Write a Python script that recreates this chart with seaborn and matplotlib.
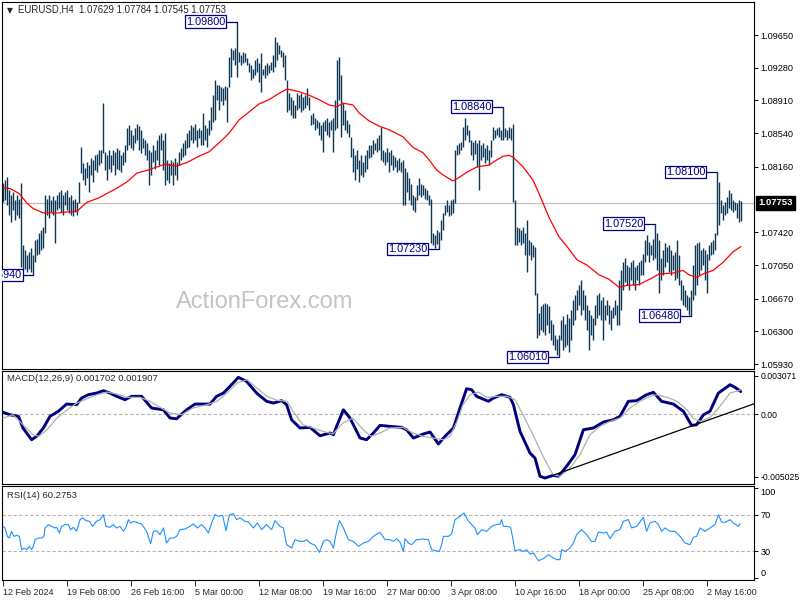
import numpy as np
import pandas as pd
import matplotlib
matplotlib.use("Agg")
import matplotlib.pyplot as plt
import seaborn as sns
from matplotlib.transforms import blended_transform_factory

sns.set_style("white")
plt.rcParams['font.family'] = ['Liberation Sans', 'DejaVu Sans']

# ---------------- data ----------------
symbol = "EURUSD,H4"
last_ohlc = [1.07629, 1.07784, 1.07545, 1.07753]

# H4 bar highs / lows in pips (price * 10000)
high_pips = [
    10798, 10801, 10804, 10790, 10784, 10788, 10779, 10784, 10780, 10798,
    10728, 10722, 10716, 10720, 10724, 10716, 10733, 10735, 10741, 10745,
    10748, 10784, 10780, 10784, 10779, 10783, 10779, 10784, 10788, 10790,
    10784, 10788, 10790, 10782, 10784, 10779, 10780, 10776, 10799, 10838,
    10820, 10815, 10822, 10818, 10826, 10824, 10829, 10831, 10835, 10835,
    10888, 10833, 10829, 10835, 10829, 10835, 10833, 10837, 10835, 10829,
    10833, 10841, 10860, 10863, 10858, 10852, 10860, 10865, 10862, 10858,
    10849, 10846, 10843, 10835, 10833, 10841, 10835, 10846, 10852, 10854,
    10846, 10854, 10824, 10820, 10824, 10822, 10826, 10822, 10833, 10837,
    10843, 10846, 10854, 10858, 10863, 10861, 10865, 10858, 10860, 10858,
    10877, 10863, 10860, 10869, 10884, 10897, 10914, 10908, 10908, 10906,
    10905, 10907, 10906, 10940, 10950, 10948, 10950, 10980, 10946, 10942,
    10946, 10945, 10939, 10933, 10931, 10927, 10937, 10939, 10933, 10945,
    10927, 10931, 10933, 10931, 10935, 10942, 10963, 10957, 10954, 10948,
    10946, 10942, 10914, 10899, 10895, 10892, 10886, 10899, 10897, 10899,
    10895, 10897, 10905, 10895, 10875, 10877, 10871, 10869, 10867, 10863,
    10867, 10869, 10871, 10867, 10869, 10871, 10892, 10937, 10940, 10920,
    10888, 10880, 10869, 10865, 10850, 10837, 10829, 10835, 10824, 10829,
    10822, 10829, 10835, 10841, 10841, 10846, 10843, 10849, 10852, 10861,
    10835, 10833, 10837, 10833, 10835, 10829, 10827, 10824, 10826, 10822,
    10824, 10815, 10810, 10803, 10797, 10784, 10782, 10795, 10803, 10797,
    10795, 10792, 10790, 10784, 10780, 10741, 10739, 10745, 10742, 10756,
    10764, 10773, 10779, 10773, 10779, 10780, 10835, 10841, 10843, 10844,
    10861, 10871, 10863, 10858, 10846, 10844, 10846, 10843, 10846, 10841,
    10843, 10837, 10841, 10835, 10846, 10861, 10858, 10860, 10861, 10858,
    10884, 10860, 10858, 10861, 10860, 10865, 10779, 10748, 10747, 10745,
    10748, 10741, 10756, 10733, 10731, 10728, 10726, 10673, 10651, 10659,
    10661, 10662, 10661, 10659, 10643, 10639, 10626, 10622, 10626, 10643,
    10648, 10639, 10650, 10645, 10654, 10666, 10671, 10677, 10682, 10688,
    10677, 10671, 10660, 10654, 10649, 10645, 10660, 10671, 10673, 10666,
    10669, 10660, 10666, 10660, 10654, 10658, 10666, 10660, 10688, 10699,
    10709, 10713, 10705, 10703, 10709, 10711, 10703, 10705, 10709, 10711,
    10718, 10733, 10739, 10731, 10728, 10735, 10752, 10741, 10733, 10713,
    10722, 10730, 10726, 10728, 10722, 10716, 10720, 10733, 10716, 10688,
    10682, 10677, 10671, 10669, 10677, 10705, 10728, 10730, 10731, 10722,
    10724, 10722, 10718, 10728, 10731, 10733, 10741, 10810, 10799, 10779,
    10773, 10776, 10782, 10790, 10787, 10779, 10776, 10775, 10779, 10778,
]
low_pips = [
    10776, 10779, 10773, 10762, 10754, 10767, 10756, 10762, 10758, 10703,
    10699, 10701, 10697, 10701, 10697, 10694, 10709, 10716, 10718, 10722,
    10724, 10741, 10762, 10758, 10765, 10762, 10730, 10767, 10769, 10765,
    10762, 10773, 10767, 10764, 10762, 10760, 10765, 10762, 10775, 10809,
    10801, 10795, 10803, 10788, 10807, 10799, 10812, 10810, 10818, 10820,
    10832, 10812, 10801, 10814, 10810, 10818, 10807, 10814, 10812, 10810,
    10818, 10822, 10835, 10841, 10837, 10835, 10843, 10846, 10835, 10832,
    10837, 10829, 10824, 10795, 10807, 10822, 10814, 10824, 10818, 10835,
    10812, 10795, 10801, 10798, 10807, 10795, 10807, 10801, 10818, 10824,
    10827, 10829, 10837, 10839, 10846, 10843, 10846, 10839, 10849, 10841,
    10841, 10846, 10839, 10852, 10858, 10867, 10869, 10892, 10880, 10890,
    10886, 10892, 10867, 10906, 10918, 10937, 10931, 10917, 10935, 10931,
    10933, 10935, 10931, 10923, 10914, 10916, 10920, 10923, 10912, 10901,
    10920, 10916, 10920, 10922, 10925, 10923, 10929, 10937, 10944, 10940,
    10929, 10914, 10878, 10880, 10875, 10871, 10871, 10880, 10882, 10878,
    10880, 10882, 10886, 10880, 10863, 10865, 10858, 10860, 10852, 10846,
    10833, 10856, 10852, 10850, 10858, 10833, 10858, 10860, 10892, 10850,
    10863, 10858, 10854, 10850, 10827, 10810, 10801, 10814, 10799, 10807,
    10805, 10810, 10814, 10826, 10827, 10831, 10835, 10833, 10835, 10824,
    10822, 10818, 10822, 10810, 10818, 10812, 10816, 10810, 10812, 10810,
    10773, 10773, 10788, 10779, 10773, 10767, 10765, 10779, 10784, 10782,
    10784, 10780, 10779, 10773, 10730, 10728, 10724, 10729, 10723, 10733,
    10745, 10762, 10765, 10760, 10762, 10764, 10775, 10829, 10831, 10835,
    10839, 10846, 10852, 10844, 10829, 10824, 10831, 10816, 10790, 10824,
    10827, 10820, 10824, 10818, 10827, 10846, 10849, 10852, 10850, 10846,
    10846, 10850, 10846, 10849, 10846, 10776, 10728, 10728, 10731, 10728,
    10730, 10716, 10697, 10716, 10711, 10714, 10671, 10623, 10626, 10632,
    10629, 10626, 10637, 10628, 10620, 10615, 10609, 10603, 10601, 10620,
    10609, 10612, 10615, 10607, 10620, 10637, 10643, 10654, 10660, 10649,
    10654, 10643, 10632, 10609, 10626, 10620, 10637, 10645, 10649, 10643,
    10620, 10643, 10649, 10639, 10632, 10645, 10649, 10637, 10637, 10654,
    10677, 10686, 10682, 10677, 10688, 10682, 10677, 10688, 10682, 10694,
    10694, 10709, 10716, 10709, 10716, 10711, 10713, 10699, 10673, 10688,
    10694, 10703, 10709, 10697, 10694, 10699, 10688, 10690, 10682, 10666,
    10660, 10658, 10654, 10649, 10648, 10666, 10671, 10682, 10694, 10699,
    10705, 10688, 10673, 10711, 10716, 10718, 10722, 10739, 10750, 10764,
    10756, 10762, 10764, 10769, 10767, 10765, 10767, 10758, 10754, 10755,
]

# red moving average (bar index, pips)
ma_bar = [0, 4, 8, 12, 15, 20, 28, 32, 37, 42, 48, 52, 57, 62, 67, 72, 77, 81, 87, 92,
          98, 103, 108, 113, 118, 123, 128, 133, 138, 142, 148, 153, 158, 163, 167, 170,
          175, 178, 183, 188, 193, 200, 205, 210, 213, 217, 220, 225, 228, 232, 237, 243,
          247, 250, 253, 255, 260, 265, 268, 273, 278, 282, 287, 292, 298, 303, 308, 312,
          318, 325, 328, 335, 340, 343, 347, 350, 355, 360, 365, 369]
ma_pips = [10793, 10791, 10786, 10775, 10769, 10764, 10764, 10765, 10766, 10776, 10781,
           10786, 10792, 10799, 10809, 10812, 10816, 10819, 10817, 10821, 10828, 10833,
           10843, 10854, 10869, 10878, 10887, 10892, 10899, 10904, 10901, 10897, 10892,
           10886, 10884, 10888, 10886, 10877, 10868, 10862, 10858, 10850, 10838, 10832,
           10824, 10812, 10807, 10800, 10804, 10810, 10816, 10818, 10824, 10828, 10829,
           10827, 10816, 10801, 10786, 10759, 10737, 10726, 10711, 10705, 10694, 10689,
           10680, 10682, 10683, 10691, 10695, 10696, 10699, 10694, 10691, 10695, 10699,
           10708, 10720, 10726]

# MACD main line (units of 1e-4)
macd_bar = [0, 3.5, 7.7, 10, 14.3, 16.8, 20.2, 23.5, 27.7, 31.8, 36.8, 39.3, 42.7, 46.8,
            50.2, 53.5, 56.8, 61, 64.3, 69.3, 74.3, 80.2, 83.5, 86.8, 91.8, 96, 103.5,
            106.8, 110.2, 113.5, 117.7, 121.8, 126.8, 131.8, 135.2, 139.3, 141.8, 144.3,
            148.5, 153.5, 158.5, 163.5, 165.2, 166.8, 170.2, 173.5, 178.5, 181.8, 185.2,
            188.5, 193.5, 199.3, 201.8, 205.2, 210.2, 213.5, 217.7, 221, 225.2, 228.5,
            231.8, 234.3, 236.8, 242.7, 245.2, 249.3, 253.5, 255.2, 258.5, 263.5, 266,
            268.5, 271, 275.2, 277.7, 281.8, 286, 290.2, 295.2, 300.2, 305.2, 308.5,
            312.7, 316.8, 321.8, 325.2, 329.3, 335.2, 340.2, 344.3, 346.8, 350.2, 353.5,
            357.7, 363.5, 366, 368.9]
macd_e4 = [1.4, -0.6, -1.8, -11.2, -20.6, -17.9, -11.2, -1.8, 2.2, 8.0, 7.5, 12.8, 15.5,
           16.8, 18.7, 16.8, 14.2, 11.5, 14.2, 14.2, 4.8, 3.4, -3.2, -3.8, 3.4, 8.0, 8.0,
           14.2, 16.8, 22.2, 29.4, 26.2, 16.8, 10.2, 8.8, 10.7, 7.5, -4.6, -11.2, -10.7,
           -17.4, -15.2, -16.6, -9.9, 3.4, -3.2, -19.2, -20.6, -15.2, -9.1,
           -9.9, -10.7, -12.6, -19.2, -16.0, -14.4, -24.0, -17.9, -11.2, 4.8, 20.3, 19.5,
           14.2, 10.2, 12.8, 15.5, 13.4, 7.5, -13.9, -31.3, -35.3, -49.9, -51.3, -49.1,
           -49.9, -41.9, -32.6, -12.6, -11.2, -6.4, -4.6, -1.8, 10.2, 10.7, 15.5, 17.4,
           10.2, 8.0, 2.2, -9.1, -8.6, -0.6, 2.2, 16.8, 23.5, 21.4, 18.0]

# MACD signal line (units of 1e-4)
signal_bar = [0, 5, 10, 15, 18, 22, 27, 32, 37, 42, 47, 52, 57, 62, 68.5, 73.5, 78.5,
              83.5, 89.3, 95, 102, 107, 112, 117, 122, 127, 132, 137, 142, 145, 150, 155,
              160, 165, 170, 175, 180, 184, 188.5, 193.5, 200, 205, 210, 215, 220, 223.5,
              227, 230, 233.5, 237.7, 242, 247, 252, 256, 260, 265, 270, 275, 278.5,
              283.5, 288.5, 293.5, 298.5, 303.5, 308.5, 313.5, 318.5, 323.5, 327, 332,
              337, 342, 345, 348.5, 353.5, 358.5, 363.5, 368.5]
signal_e4 = [-3.2, -0.6, -8.6, -16.6, -17.9, -12.6, -3.2, 3.4, 8.8, 12.3, 15.5, 17.6,
             16.0, 13.4, 13.4, 10.2, 5.4, 0.8, -0.6, 4.8, 7.5, 10.2, 16.8, 24.8, 27.5,
             20.8, 14.2, 11.0, 10.2, 2.2, -8.6, -11.2, -13.9, -16.0, -7.2, -3.2, -12.6,
             -17.9, -15.2, -11.2, -10.7, -15.2, -17.9, -19.2, -20.6, -17.9, -5.9, 7.5,
             15.5, 17.6, 13.4, 14.2, 14.2, 11.5, -0.6, -16.6, -33.9, -48.6, -49.9, -43.3,
             -32.6, -16.6, -9.9, -5.9, -3.2, 4.8, 10.2, 14.2, 15.5, 13.4, 10.2, 3.4, -3.2,
             -5.9, -2.7, 6.2, 16.8, 19.1]
macd_last = [0.001702, 0.001907]

# MACD trend line (bar index, value)
trend_bar = [274.5, 375.5]
trend_val = [-0.00494, 0.00082]

# RSI(14)
rsi_bar = [0, 1, 2.2, 3.2, 4.3, 5.5, 6.8, 8.2, 9.3, 10.5, 11.8, 13.2, 14.3, 15.2, 16,
           17.7, 19.3, 20.5, 21, 22.7, 24.3, 26, 26.8, 28.2, 29.3, 31, 32.7, 33.8, 35.2,
           36.8, 38.5, 39.8, 41.5, 43.2, 44.8, 46.8, 48.5, 50.2, 51.5, 53.5, 55.2, 56.8,
           58.5, 60.2, 61.5, 62.7, 63.8, 65.2, 67.7, 69.3, 71.8, 73.8, 75.2, 76.8, 78.5,
           80.2, 81.8, 83.5, 85.2, 86.8, 88.5, 91, 93.5, 95.2, 97.2, 99.3, 101, 102.7,
           104.3, 106, 107.7, 109.8, 111.5, 113.2, 115.2, 116.8, 118.5, 121, 122.7, 125.2,
           127.2, 129.3, 131.8, 134.3, 136, 138.5, 140.2, 141.8, 144.3, 146, 148.5, 150.2,
           151.8, 153.5, 156, 158.2, 160.2, 161.8, 163.5, 165.2, 166.8, 168.2, 170.2,
           172.7, 175.2, 177.7, 180.2, 182.7, 185.2, 188.5, 191,
           193.5, 195.2, 196.8, 198.5, 200.2, 201, 202.7, 204.3, 206.8, 210.2, 212.7,
           214.3, 216, 218.2, 219.3, 220.2, 222.7, 224.3, 226, 228.5, 230.5, 232.2, 234.3,
           236, 237.2, 239.3, 241.8, 244.3, 246.5, 248.5, 249.3, 250.2, 251.8, 253.8,
           255.2, 256, 258.5, 260.2, 261.8, 263.5, 265.2, 267.7, 270.2, 272.7, 275.2,
           276.8, 278.5, 279.3, 281, 283.5, 285.2, 286.8, 289.3, 291.8, 294.3, 296, 297.7,
           300.2, 301.8, 303.5, 306, 308.5, 310.2, 312.7, 314.3, 316.8, 319.3, 320.2,
           321.8, 323.5, 326, 327.7, 329.3, 331, 333.5, 336, 338.5, 341, 343.5, 345.2,
           346.8, 348.5, 351, 353.5, 356, 357.7, 359.3, 361, 363.5, 365.2, 367.7, 368.5]
rsi_val = [57.4, 55.6, 46.3, 44.4, 51.9, 46.3, 47.4, 46.3, 31.5, 33.3, 31.5, 35.2, 31.5,
           35.2, 42.6, 44.4, 44.4, 46.3, 55.6, 59.3, 57.4, 55.6, 56.3, 50.0, 57.4, 59.3,
           59.3, 53.7, 56.3, 51.9, 64.8, 66.7, 63.7, 63.0, 57.4, 63.0, 64.8, 70.4, 57.4,
           56.3, 59.3, 55.6, 57.4, 51.9, 56.3, 64.8, 61.1, 63.0, 61.1, 60.0, 51.9, 38.1,
           51.9, 52.6, 48.1, 55.6, 38.9, 44.4, 44.4, 46.3, 53.7, 54.4, 57.4, 60.0, 55.6,
           59.3, 55.6, 50.0, 61.1, 70.4, 68.5, 69.6, 52.6, 70.4, 71.5, 64.8, 66.7, 63.0,
           62.2, 55.6, 61.1, 53.7, 59.3, 53.7, 63.7, 57.4, 55.6, 37.0, 33.3, 42.6, 40.7,
           40.7, 42.6, 38.9, 36.3, 28.5, 40.7, 42.6, 40.7, 33.3, 51.9, 63.7, 55.6, 42.6,
           40.7, 35.2, 38.9, 40.7, 46.3, 50.7, 42.6,
           42.6, 40.7, 43.7, 40.0, 29.6, 43.7, 38.9, 37.0, 42.6, 43.3, 42.6, 31.5, 30.4,
           29.6, 37.0, 46.3, 46.3, 48.9, 64.8, 68.5, 72.2, 64.8, 59.3, 55.6, 48.1, 53.7,
           51.9, 57.4, 59.3, 60.0, 64.8, 57.4, 57.4, 56.3, 40.7, 30.4, 31.5, 29.6, 31.5,
           26.7, 27.8, 19.3, 21.5, 25.9, 22.2, 20.4, 20.4, 31.5, 29.6, 33.3, 38.9, 48.1,
           53.7, 48.1, 40.7, 40.7, 51.1, 50.0, 51.1, 43.7, 51.9, 53.7, 63.0, 64.8, 55.6,
           57.4, 64.8, 67.4, 51.9, 61.1, 63.0, 59.3, 51.9, 55.6, 51.9, 51.9, 46.3, 38.9,
           37.0, 45.2, 46.3, 55.6, 51.9, 55.6, 59.3, 70.4, 62.2, 61.9, 64.8, 61.1, 57.4,
           60.3]
rsi_last = 60.2753

# swing labels
swing_bar = [15, 117, 218, 250, 278, 326, 344, 357]
swing_price = [1.06940, 1.09800, 1.07230, 1.08840, 1.06010, 1.07520, 1.06480, 1.08100]

price_ticks = [1.09650, 1.09280, 1.08910, 1.08540, 1.08160, 1.07420, 1.07050,
               1.06670, 1.06300, 1.05930]
x_labels = ["12 Feb 2024", "19 Feb 08:00", "26 Feb 16:00", "5 Mar 00:00", "12 Mar 08:00",
            "19 Mar 16:00", "27 Mar 00:00", "3 Apr 08:00", "10 Apr 16:00", "18 Apr 00:00",
            "25 Apr 08:00", "2 May 16:00"]
x_label_bar = [0, 32, 64, 96, 128, 160, 192, 224, 256, 288, 320, 352]

# ---------------- figure ----------------
n = min(len(high_pips), len(low_pips))
bars = pd.DataFrame({"bar": np.arange(n),
                     "high": np.array(high_pips[:n]) / 10000.0,
                     "low": np.array(low_pips[:n]) / 10000.0})

fig = plt.figure(figsize=(8, 6), dpi=100)
L, W = 2 / 800, 752 / 800
ax1 = fig.add_axes([L, 1 - 369 / 600, W, 367 / 600])
ax2 = fig.add_axes([L, 1 - 484 / 600, W, 113 / 600])
ax3 = fig.add_axes([L, 1 - 580 / 600, W, 94 / 600])

XL = (-0.5, 375.5)
for ax in (ax1, ax2, ax3):
    ax.set_facecolor("white")
    ax.set_xlim(*XL)
    for s in ax.spines.values():
        s.set_visible(True)
        s.set_color("black")
        s.set_linewidth(0.8)
    ax.yaxis.tick_right()
    ax.tick_params(axis="y", which="both", right=True, left=False, direction="out",
                   length=3, width=0.7, pad=1.5, labelsize=6.6, colors="black")

BAR_C = "#0d3654"
NAVY = "#000080"

# --- price panel ---
ax1.set_ylim(1.05876, 1.10023)
cur = last_ohlc[3]
ax1.axhline(cur, color="#c0c0c0", lw=0.9, zorder=1)
ax1.vlines(bars["bar"], bars["low"], bars["high"], color=BAR_C, lw=1.0, zorder=3)
sns.lineplot(x=ma_bar, y=np.array(ma_pips) / 10000.0, ax=ax1, color="#ff0000",
             lw=0.9, estimator=None, zorder=4)
ax1.set_yticks(price_ticks)
ax1.set_yticklabels([f"{v:.5f}" for v in price_ticks])
ax1.tick_params(axis="x", bottom=False, labelbottom=False)

tb = blended_transform_factory(ax1.transAxes, ax1.transData)
ax1.text(1.006, cur, f"{cur:.5f}", transform=tb, ha="left", va="center",
         fontsize=6.8, color="white", fontweight="bold", clip_on=False,
         bbox=dict(boxstyle="square,pad=0.25", fc="black", ec="black"))

for b, p in zip(swing_bar, swing_price):
    ax1.plot([b - 5, b], [p, p], color=NAVY, lw=0.9, zorder=5)
    ax1.text(b - 5.9, p, f"{p:.5f}", ha="right", va="center", fontsize=7.8,
             color=NAVY, zorder=6, clip_on=True,
             bbox=dict(boxstyle="square,pad=0.12", fc="white", ec=NAVY, lw=0.9))

fig.text(7 / 800, 1 - 10.5 / 600, "\u25bc", fontsize=5.5, ha="left", va="center",
         family=["DejaVu Sans"])
fig.text(18 / 800, 1 - 10 / 600,
         f"{symbol}  " + " ".join(f"{v:.5f}" for v in last_ohlc),
         fontsize=6.9, ha="left", va="center")
fig.text(265 / 800, 1 - 307.5 / 600, "ActionForex.com", fontsize=17, color="#c4c4c4",
         ha="center", va="baseline", zorder=0)

# --- MACD panel ---
ax2.set_ylim(-0.00561, 0.00345)
ax2.axhline(0, color="#b4b4b4", lw=0.8, ls=(0, (3, 2)), zorder=1)
sns.lineplot(x=macd_bar, y=np.array(macd_e4) * 1e-4, ax=ax2, color=NAVY, lw=2.1,
             estimator=None, zorder=3)
sns.lineplot(x=signal_bar, y=np.array(signal_e4) * 1e-4, ax=ax2, color="#b0b0b0",
             lw=0.9, estimator=None, zorder=4)
sns.lineplot(x=trend_bar, y=trend_val, ax=ax2, color="black", lw=0.9,
             estimator=None, zorder=5)
ax2.set_yticks([0.003071, 0.0, -0.005025])
mlabs = ax2.set_yticklabels(["0.003071", "0.00", "-0.005025"])
for t in mlabs:
    t.set_fontsize(6.2)
ax2.tick_params(axis="x", bottom=False, labelbottom=False)
ax2.text(0.007, 0.93, f"MACD(12,26,9) {macd_last[0]:.6f} {macd_last[1]:.6f}",
         transform=ax2.transAxes, fontsize=6.8, ha="left", va="center")

# --- RSI panel ---
ax3.set_ylim(-2.2, 102.2)
for lv in (70, 30):
    ax3.axhline(lv, color="#b4b4b4", lw=0.8, ls=(0, (3, 2)), zorder=1)
sns.lineplot(x=rsi_bar, y=rsi_val, ax=ax3, color="#1e90ff", lw=0.8,
             estimator=None, zorder=3)
ax3.set_yticks([100, 70, 30, 0])
ylabs = ax3.set_yticklabels(["100", "70", "30", "0"])
ylabs[0].set_va("top")
ylabs[3].set_va("bottom")
ax3.text(0.007, 0.9, f"RSI(14) {rsi_last:.4f}", transform=ax3.transAxes,
         fontsize=6.8, ha="left", va="center")
ax3.set_xticks(x_label_bar)
ax3.set_xticklabels(x_labels, ha="left", fontsize=6.5)
ax3.tick_params(axis="x", bottom=True, direction="out", length=4, width=0.7, pad=1.5)

for ax in (ax1, ax2, ax3):
    ax.set_xlabel("")
    ax.set_ylabel("")
    if ax.get_legend():
        ax.get_legend().remove()

fig.savefig("out.png", dpi=100, facecolor="white")
